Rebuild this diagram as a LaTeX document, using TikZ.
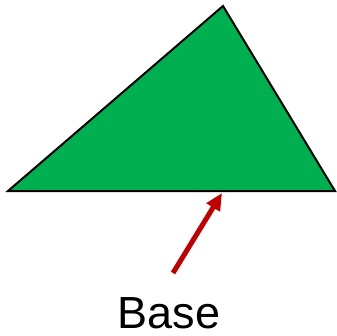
\documentclass[tikz,border=0pt]{standalone}
\usepackage{fontspec}
\setmainfont{Liberation Sans}
\usetikzlibrary{arrows.meta}
\definecolor{trigreen}{HTML}{00B050}
\definecolor{arrowred}{HTML}{C00000}
\begin{document}
\begin{tikzpicture}[x=1pt,y=-1pt,
    trishape/.style={draw=black, line width=2pt, fill=trigreen},
    pointer/.style={draw=arrowred, line width=5pt, -{Triangle[length=17pt,width=15pt]}},
    basetext/.style={font=\fontsize{45}{54}\selectfont, inner sep=0pt, anchor=base}]
                \useasboundingbox (0,0) rectangle (336,336);
                \draw[trishape] (8,191) -- (223,6) -- (335,191) -- cycle;
                \node[basetext] (base) at (169,328) {Base};
                \coordinate (tail) at (173,273);
                \coordinate (tip) at (222,193);
                \draw[pointer] (tail) -- (tip);
            \end{tikzpicture}
\end{document}
